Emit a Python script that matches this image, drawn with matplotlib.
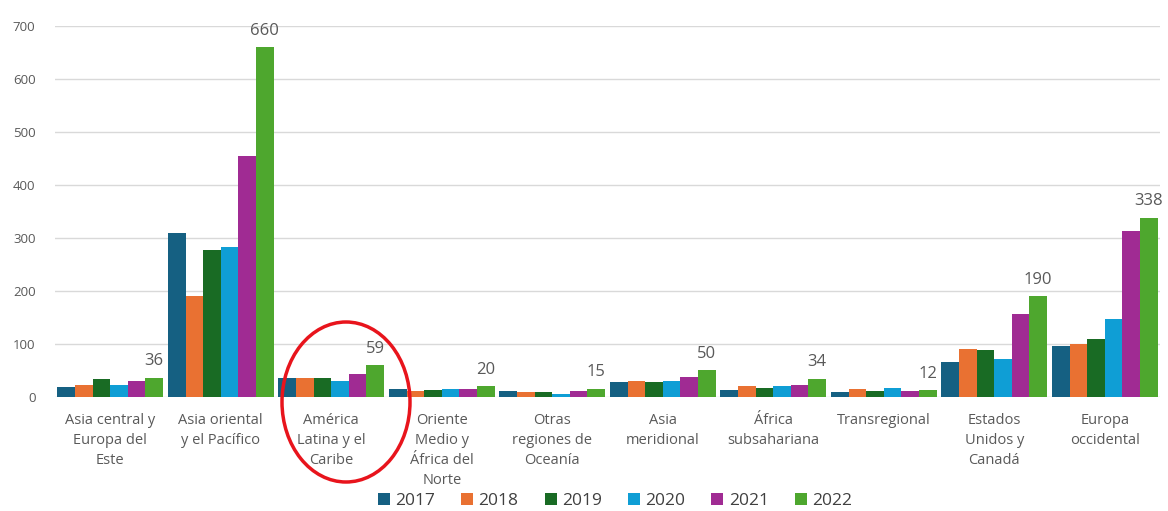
import matplotlib
matplotlib.use("Agg")
import matplotlib.pyplot as plt
from matplotlib.patches import Ellipse
import numpy as np

plt.rcParams['font.family'] = ['Open Sans', 'DejaVu Sans']

categories = ["Asia central y\nEuropa del\nEste", "Asia oriental\ny el Pacífico",
              "América\nLatina y el\nCaribe", "Oriente\nMedio y\nÁfrica del\nNorte",
              "Otras\nregiones de\nOceanía", "Asia\nmeridional", "África\nsubsahariana",
              "Transregional", "Estados\nUnidos y\nCanadá", "Europa\noccidental"]
years = ["2017", "2018", "2019", "2020", "2021", "2022"]
v2017 = [18, 309, 35, 14, 11, 28, 13, 8, 66, 95]
v2018 = [23, 190, 35, 11, 9, 30, 20, 14, 90, 100]
v2019 = [33, 277, 35, 13, 8, 28, 17, 11, 88, 109]
v2020 = [23, 282, 30, 15, 6, 30, 20, 16, 71, 147]
v2021 = [29, 455, 42, 15, 11, 37, 23, 11, 157, 312]
v2022 = [36, 660, 59, 20, 15, 50, 34, 12, 190, 338]
series = [v2017, v2018, v2019, v2020, v2021, v2022]
colors = ["#156082", "#E97132", "#196B24", "#0F9ED5", "#A02B93", "#4EA72E"]

W, H = 1168, 511
fig = plt.figure(figsize=(W / 100, H / 100), dpi=100)
ax = fig.add_axes([55 / W, 1 - 396.7 / H, (1160 - 55) / W, (396.7 - 26) / H])

n = len(categories)
x = np.arange(n)
bw = 0.955 / 6
for i, (vals, c, y) in enumerate(zip(series, colors, years)):
    pos = x - 3 * bw + bw / 2 + i * bw
    ax.bar(pos, vals, width=bw, color=c, label=y, zorder=3)
    if i == 5:
        for p, v in zip(pos, vals):
            ax.annotate(str(v), (p, v), xytext=(0, 6), textcoords="offset points",
                        ha="center", va="bottom", fontsize=12, color="#595959")

ax.set_xlim(-0.5, n - 0.5)
ax.set_ylim(0, 700)
ax.set_yticks(range(0, 701, 100))
ax.yaxis.grid(True, color="#d9d9d9", linewidth=1, zorder=0)
ax.set_axisbelow(True)
for s in ax.spines.values():
    s.set_visible(False)
ax.tick_params(axis="y", length=0, pad=14, labelsize=9.5, labelcolor="#595959")
ax.tick_params(axis="x", length=0, pad=12, labelsize=10.5, labelcolor="#595959")
ax.set_xticks(x)
ax.set_xticklabels(categories, linespacing=1.45)

fig.legend(loc="center", bbox_to_anchor=(615 / W, 1 - 501 / H), ncol=6, frameon=False,
           fontsize=12.5, handlelength=0.7, handleheight=0.7, handletextpad=0.3,
           columnspacing=1.5, labelcolor="#404040")

ell = Ellipse((346 / W, 1 - 402 / H), 128 / W, 160 / H, transform=fig.transFigure,
              fill=False, edgecolor="#e8141c", linewidth=2.5, zorder=10)
fig.patches.append(ell)

fig.savefig("out.png", dpi=100, facecolor="white")
